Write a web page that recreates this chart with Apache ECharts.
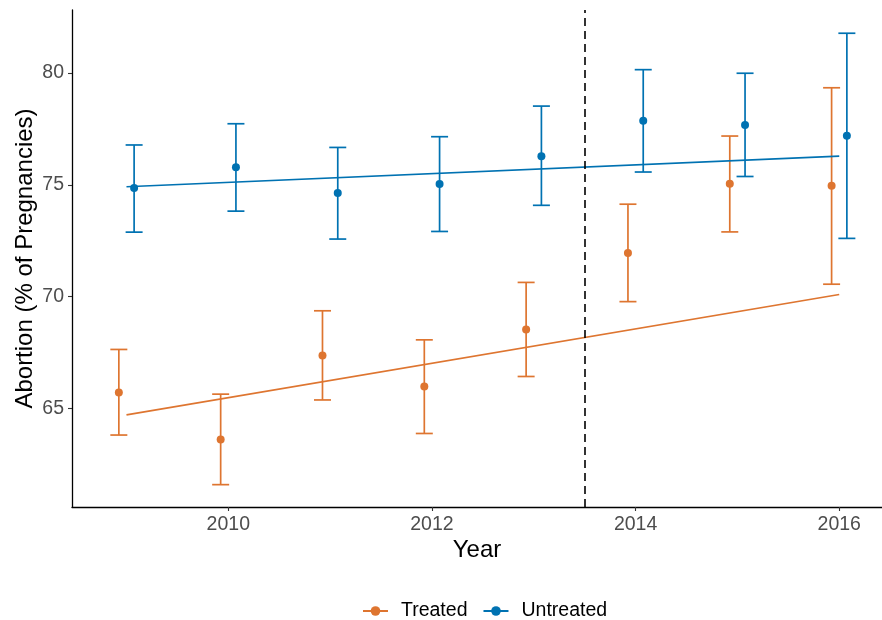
<!DOCTYPE html>
<html>
<head>
<meta charset="utf-8">
<script src="https://cdn.jsdelivr.net/npm/echarts@6/dist/echarts.min.js"></script>
<style>
    html, body { margin: 0; padding: 0; background: #fff; }
    #chart1 { width: 882px; height: 620px; }
</style>
</head>
<body>
<div id="chart1"></div>
<script>
// data
var years = [2009, 2010, 2011, 2012, 2013, 2014, 2015, 2016];
var treatedMean = [65.70, 63.60, 67.36, 65.97, 68.52, 71.95, 75.04, 74.95];
var treatedLow = [63.80, 61.58, 65.37, 63.87, 66.42, 69.77, 72.89, 70.55];
var treatedHigh = [67.63, 65.63, 69.36, 68.06, 70.63, 74.13, 77.18, 79.34];
var untreatedMean = [74.85, 75.78, 74.63, 75.03, 76.28, 77.86, 77.67, 77.19];
var untreatedLow = [72.88, 73.82, 72.57, 72.91, 74.08, 75.57, 75.37, 72.60];
var untreatedHigh = [76.78, 77.73, 76.67, 77.15, 78.52, 80.15, 79.99, 81.78];
var fitYears = [2009, 2016];
var treatedFit = [64.70, 70.09];
var untreatedFit = [74.91, 76.28];
var policyYear = 2013.5;
var xTicks = [2010, 2012, 2014, 2016];
var yTicks = [65, 70, 75, 80];
var dodge = 0.075;

var ORANGE = '#DE7530',
    BLUE = '#0072B2';
var FONT = 'Liberation Sans, Arial, sans-serif';

var chart1 = echarts.init(document.getElementById('chart1'));

function pairs(xs, ys, off) {
    var out = [];
    for (var i = 0; i < xs.length; i++) {
        out.push([xs[i] + off, ys[i]]);
    }
    return out;
}

function bars(xs, lo, hi, off) {
    var out = [];
    for (var i = 0; i < xs.length; i++) {
        out.push([xs[i] + off, lo[i], hi[i]]);
    }
    return out;
}

function errorBar(color) {
    return function (params, api) {
        var lo = api.coord([api.value(0), api.value(1)]);
        var hi = api.coord([api.value(0), api.value(2)]);
        var w = 8.5;
        var style = { stroke: color, lineWidth: 1.7 };
        return {
            type: 'group',
            children: [
                { type: 'line', shape: { x1: lo[0], y1: lo[1], x2: hi[0], y2: hi[1] }, style: style },
                { type: 'line', shape: { x1: hi[0] - w, y1: hi[1], x2: hi[0] + w, y2: hi[1] }, style: style },
                { type: 'line', shape: { x1: lo[0] - w, y1: lo[1], x2: lo[0] + w, y2: lo[1] }, style: style }
            ]
        };
    };
}

var option = {
    animation: false,
    backgroundColor: '#fff',
    textStyle: { fontFamily: FONT },
    grid: { left: 72, right: 0, top: 10, bottom: 113, outerBoundsMode: 'none' },
    legend: {
        top: 596,
        left: 357,
        itemWidth: 25,
        itemHeight: 12,
        itemGap: 15,
        data: ['Treated', 'Untreated'],
        textStyle: { fontSize: 19.5, color: '#000', fontFamily: FONT, padding: [0, 0, 0, 8] }
    },
    xAxis: {
        type: 'value',
        min: 2008.465,
        max: 2016.42,
        name: 'Year',
        nameLocation: 'middle',
        nameGap: 31,
        nameMoveOverlap: false,
        nameTextStyle: { fontSize: 24, color: '#000', fontFamily: FONT },
        splitLine: { show: false },
        axisLine: { lineStyle: { color: '#000', width: 1.3 } },
        axisTick: { customValues: xTicks, length: 4, lineStyle: { color: '#333', width: 1.1 } },
        axisLabel: {
            customValues: xTicks, margin: 8, fontSize: 19.5, color: '#4D4D4D', fontFamily: FONT,
            formatter: function (v) { return String(v); }
        }
    },
    yAxis: {
        type: 'value',
        min: 60.58,
        max: 82.82,
        name: 'Abortion (% of Pregnancies)',
        nameLocation: 'middle',
        nameGap: 35,
        nameMoveOverlap: false,
        nameTextStyle: { fontSize: 24, color: '#000', fontFamily: FONT },
        splitLine: { show: false },
        axisLine: { show: true, lineStyle: { color: '#000', width: 1.3 } },
        axisTick: { show: true, customValues: yTicks, length: 4, lineStyle: { color: '#333', width: 1.1 } },
        axisLabel: { customValues: yTicks, margin: 8, fontSize: 19.5, color: '#4D4D4D', fontFamily: FONT }
    },
    series: [
        {
            name: 'Treated',
            type: 'line',
            data: pairs(fitYears, treatedFit, 0),
            symbol: 'circle',
            symbolSize: 8,
            showSymbol: false,
            lineStyle: { color: ORANGE, width: 1.7 },
            itemStyle: { color: ORANGE },
            z: 3
        },
        {
            name: 'Untreated',
            type: 'line',
            data: pairs(fitYears, untreatedFit, 0),
            symbol: 'circle',
            symbolSize: 8,
            showSymbol: false,
            lineStyle: { color: BLUE, width: 1.7 },
            itemStyle: { color: BLUE },
            z: 3,
            markLine: {
                silent: true,
                symbol: 'none',
                label: { show: false },
                lineStyle: { color: '#000', type: [8, 5], width: 1.6, opacity: 1 },
                data: [{ xAxis: policyYear }]
            }
        },
        {
            name: 'Treated',
            type: 'custom',
            renderItem: errorBar(ORANGE),
            data: bars(years, treatedLow, treatedHigh, -dodge),
            encode: { x: 0, y: [1, 2] },
            z: 2
        },
        {
            name: 'Untreated',
            type: 'custom',
            renderItem: errorBar(BLUE),
            data: bars(years, untreatedLow, untreatedHigh, dodge),
            encode: { x: 0, y: [1, 2] },
            z: 2
        },
        {
            name: 'Treated',
            type: 'scatter',
            data: pairs(years, treatedMean, -dodge),
            symbolSize: 8,
            itemStyle: { color: ORANGE, opacity: 1 },
            z: 4
        },
        {
            name: 'Untreated',
            type: 'scatter',
            data: pairs(years, untreatedMean, dodge),
            symbolSize: 8,
            itemStyle: { color: BLUE, opacity: 1 },
            z: 4
        }
    ]
};
chart1.setOption(option, true);
</script>
</body>
</html>
